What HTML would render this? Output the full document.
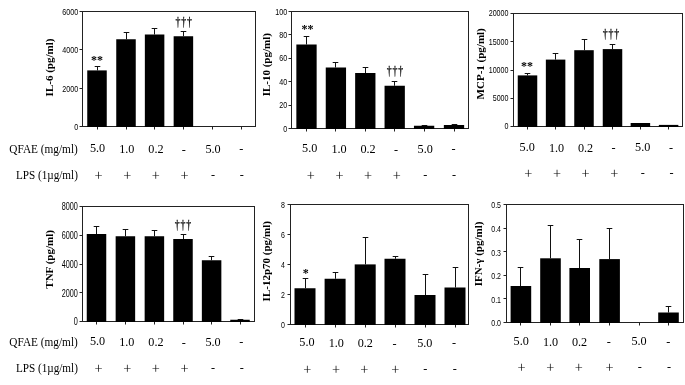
<!DOCTYPE html>
<html><head><meta charset="utf-8"><title>Cytokine charts</title>
<style>html,body{margin:0;padding:0;background:#fff}svg{display:block}
text{font-family:"Liberation Serif","DejaVu Serif",serif;fill:#000}
.l{font-size:12.2px}.t{font-family:"Liberation Sans","DejaVu Sans",sans-serif}.y{font-size:11px;font-weight:bold}.m{font-size:12px;font-weight:bold;fill:#000}.d{font-size:12px;fill:#000;stroke:#000;stroke-width:.25px;letter-spacing:1.1px}.p{font-size:14.3px}
.ax{stroke:#222;stroke-width:1;fill:none}.b{fill:#000}.e{stroke:#111;stroke-width:1;fill:none}</style></head>
<body>
<svg width="685" height="385" viewBox="0 0 685 385">
<rect width="685" height="385" fill="#fff"/>
<g>
<rect class="ax" x="82.5" y="11.5" width="173.00" height="115.00"/>
<line class="ax" x1="79.5" y1="126.5" x2="82.5" y2="126.5"/><text class="t" font-size="9.3" text-anchor="end" transform="translate(78.20,130.03) scale(0.767,1)">0</text>
<line class="ax" x1="79.5" y1="88.5" x2="82.5" y2="88.5"/><text class="t" font-size="9.3" text-anchor="end" transform="translate(78.20,91.70) scale(0.767,1)">2000</text>
<line class="ax" x1="79.5" y1="49.5" x2="82.5" y2="49.5"/><text class="t" font-size="9.3" text-anchor="end" transform="translate(78.20,53.36) scale(0.767,1)">4000</text>
<line class="ax" x1="79.5" y1="11.5" x2="82.5" y2="11.5"/><text class="t" font-size="9.3" text-anchor="end" transform="translate(78.20,15.03) scale(0.767,1)">6000</text>
<line class="ax" x1="97.5" y1="126.5" x2="97.5" y2="129.5"/><path class="e" d="M97.5 70.4V66.5M94.7 66.5H100.3"/><rect class="b" x="87.25" y="70.4" width="19.5" height="56.60"/>
<line class="ax" x1="126.5" y1="126.5" x2="126.5" y2="129.5"/><path class="e" d="M126.5 39.25V32.5M123.7 32.5H129.3"/><rect class="b" x="116.25" y="39.25" width="19.5" height="87.75"/>
<line class="ax" x1="154.5" y1="126.5" x2="154.5" y2="129.5"/><path class="e" d="M154.5 34.5V28.5M151.7 28.5H157.3"/><rect class="b" x="144.85" y="34.5" width="19.5" height="92.50"/>
<line class="ax" x1="183.5" y1="126.5" x2="183.5" y2="129.5"/><path class="e" d="M183.5 36.25V31.5M180.7 31.5H186.3"/><rect class="b" x="173.65" y="36.25" width="19.5" height="90.75"/>
<line class="ax" x1="212.5" y1="126.5" x2="212.5" y2="129.5"/>
<line class="ax" x1="241.5" y1="126.5" x2="241.5" y2="129.5"/>
<text class="m" text-anchor="middle" x="97" y="63.5">**</text>
<text class="d" text-anchor="middle" transform="translate(184.15,26) scale(0.82,1)">†††</text>
<text class="y" text-anchor="middle" transform="translate(53.4,67.5) rotate(-90)">IL-6 (pg/ml)</text>
<text class="l" x="9.3" y="152.80" textLength="68.5" lengthAdjust="spacingAndGlyphs">QFAE (mg/ml)</text>
<text class="l" x="15.9" y="178.60" textLength="62" lengthAdjust="spacingAndGlyphs">LPS (1µg/ml)</text>
<text class="l" text-anchor="middle" x="97.50" y="152.20">5.0</text><text class="p" text-anchor="middle" x="98.50" y="179.70">+</text>
<text class="l" text-anchor="middle" x="126.80" y="153.00">1.0</text><text class="p" text-anchor="middle" x="127.25" y="179.70">+</text>
<text class="l" text-anchor="middle" x="155.90" y="153.00">0.2</text><text class="p" text-anchor="middle" x="155.90" y="179.70">+</text>
<text class="l" text-anchor="middle" x="183.75" y="152.70">-</text><text class="p" text-anchor="middle" x="184.60" y="179.70">+</text>
<text class="l" text-anchor="middle" x="213.00" y="152.50">5.0</text><text class="l" text-anchor="middle" x="213.10" y="177.70">-</text>
<text class="l" text-anchor="middle" x="241.40" y="152.00">-</text><text class="l" text-anchor="middle" x="241.75" y="177.70">-</text>
</g>
<g>
<rect class="ax" x="291.5" y="11.5" width="177.00" height="117.00"/>
<line class="ax" x1="288.5" y1="128.5" x2="291.5" y2="128.5"/><text class="t" font-size="9.3" text-anchor="end" transform="translate(287.20,131.53) scale(0.767,1)">0</text>
<line class="ax" x1="288.5" y1="105.5" x2="291.5" y2="105.5"/><text class="t" font-size="9.3" text-anchor="end" transform="translate(287.20,108.13) scale(0.767,1)">20</text>
<line class="ax" x1="288.5" y1="81.5" x2="291.5" y2="81.5"/><text class="t" font-size="9.3" text-anchor="end" transform="translate(287.20,84.73) scale(0.767,1)">40</text>
<line class="ax" x1="288.5" y1="58.5" x2="291.5" y2="58.5"/><text class="t" font-size="9.3" text-anchor="end" transform="translate(287.20,61.33) scale(0.767,1)">60</text>
<line class="ax" x1="288.5" y1="34.5" x2="291.5" y2="34.5"/><text class="t" font-size="9.3" text-anchor="end" transform="translate(287.20,37.93) scale(0.767,1)">80</text>
<line class="ax" x1="288.5" y1="11.5" x2="291.5" y2="11.5"/><text class="t" font-size="9.3" text-anchor="end" transform="translate(287.20,14.53) scale(0.767,1)">100</text>
<line class="ax" x1="306.5" y1="128.5" x2="306.5" y2="131.5"/><path class="e" d="M306.5 44.5V36.5M303.7 36.5H309.3"/><rect class="b" x="296.35" y="44.5" width="20.3" height="84.50"/>
<line class="ax" x1="335.5" y1="128.5" x2="335.5" y2="131.5"/><path class="e" d="M335.5 67.5V62.5M332.7 62.5H338.3"/><rect class="b" x="325.75" y="67.5" width="20.3" height="61.50"/>
<line class="ax" x1="365.5" y1="128.5" x2="365.5" y2="131.5"/><path class="e" d="M365.5 73V67.5M362.7 67.5H368.3"/><rect class="b" x="355.15" y="73" width="20.3" height="56.00"/>
<line class="ax" x1="394.5" y1="128.5" x2="394.5" y2="131.5"/><path class="e" d="M394.5 85.75V81.5M391.7 81.5H397.3"/><rect class="b" x="384.55" y="85.75" width="20.3" height="43.25"/>
<line class="ax" x1="424.5" y1="128.5" x2="424.5" y2="131.5"/><path class="e" d="M424.5 125.75V125.5M421.7 125.5H427.3"/><rect class="b" x="413.95" y="125.75" width="20.3" height="3.25"/>
<line class="ax" x1="454.5" y1="128.5" x2="454.5" y2="131.5"/><path class="e" d="M454.5 125V124.5M451.7 124.5H457.3"/><rect class="b" x="443.85" y="125" width="20.3" height="4.00"/>
<text class="m" text-anchor="middle" x="307.5" y="32.6">**</text>
<text class="d" text-anchor="middle" transform="translate(395.4,74.6) scale(0.82,1)">†††</text>
<text class="y" text-anchor="middle" transform="translate(269.8,64.7) rotate(-90)">IL-10 (pg/ml)</text>
<text class="l" text-anchor="middle" x="309.70" y="152.20">5.0</text><text class="p" text-anchor="middle" x="310.70" y="179.70">+</text>
<text class="l" text-anchor="middle" x="339.00" y="153.00">1.0</text><text class="p" text-anchor="middle" x="339.45" y="179.70">+</text>
<text class="l" text-anchor="middle" x="368.10" y="153.00">0.2</text><text class="p" text-anchor="middle" x="368.10" y="179.70">+</text>
<text class="l" text-anchor="middle" x="395.95" y="152.70">-</text><text class="p" text-anchor="middle" x="396.80" y="179.70">+</text>
<text class="l" text-anchor="middle" x="425.20" y="152.50">5.0</text><text class="l" text-anchor="middle" x="425.30" y="177.70">-</text>
<text class="l" text-anchor="middle" x="453.60" y="152.00">-</text><text class="l" text-anchor="middle" x="453.95" y="177.70">-</text>
</g>
<g>
<rect class="ax" x="513.5" y="13.5" width="169.00" height="113.00"/>
<line class="ax" x1="510.5" y1="126.5" x2="513.5" y2="126.5"/><text class="t" font-size="9.3" text-anchor="end" transform="translate(508.50,129.43) scale(0.767,1)">0</text>
<line class="ax" x1="510.5" y1="98.5" x2="513.5" y2="98.5"/><text class="t" font-size="9.3" text-anchor="end" transform="translate(508.50,101.18) scale(0.767,1)">5000</text>
<line class="ax" x1="510.5" y1="70.5" x2="513.5" y2="70.5"/><text class="t" font-size="9.3" text-anchor="end" transform="translate(508.50,72.93) scale(0.767,1)">10000</text>
<line class="ax" x1="510.5" y1="41.5" x2="513.5" y2="41.5"/><text class="t" font-size="9.3" text-anchor="end" transform="translate(508.50,44.68) scale(0.767,1)">15000</text>
<line class="ax" x1="510.5" y1="13.5" x2="513.5" y2="13.5"/><text class="t" font-size="9.3" text-anchor="end" transform="translate(508.50,16.43) scale(0.767,1)">20000</text>
<line class="ax" x1="527.5" y1="126.5" x2="527.5" y2="129.5"/><path class="e" d="M527.5 75.4V73.5M524.7 73.5H530.3"/><rect class="b" x="517.75" y="75.4" width="19.5" height="51.60"/>
<line class="ax" x1="555.5" y1="126.5" x2="555.5" y2="129.5"/><path class="e" d="M555.5 59.6V53.5M552.7 53.5H558.3"/><rect class="b" x="545.85" y="59.6" width="19.5" height="67.40"/>
<line class="ax" x1="584.5" y1="126.5" x2="584.5" y2="129.5"/><path class="e" d="M584.5 50.2V39.5M581.7 39.5H587.3"/><rect class="b" x="574.25" y="50.2" width="19.5" height="76.80"/>
<line class="ax" x1="612.5" y1="126.5" x2="612.5" y2="129.5"/><path class="e" d="M612.5 49.1V44.5M609.7 44.5H615.3"/><rect class="b" x="602.75" y="49.1" width="19.5" height="77.90"/>
<line class="ax" x1="640.5" y1="126.5" x2="640.5" y2="129.5"/><rect class="b" x="630.65" y="123" width="19.5" height="4.00"/>
<line class="ax" x1="668.5" y1="126.5" x2="668.5" y2="129.5"/><rect class="b" x="658.85" y="124.9" width="19.5" height="2.10"/>
<text class="m" text-anchor="middle" x="527" y="70">**</text>
<text class="d" text-anchor="middle" transform="translate(611.4,38.4) scale(0.82,1)">†††</text>
<text class="y" text-anchor="middle" transform="translate(484,63.8) rotate(-90)">MCP-1 (pg/ml)</text>
<text class="l" text-anchor="middle" x="527.20" y="150.80">5.0</text><text class="p" text-anchor="middle" x="528.20" y="178.30">+</text>
<text class="l" text-anchor="middle" x="556.50" y="151.60">1.0</text><text class="p" text-anchor="middle" x="556.95" y="178.30">+</text>
<text class="l" text-anchor="middle" x="585.60" y="151.60">0.2</text><text class="p" text-anchor="middle" x="585.60" y="178.30">+</text>
<text class="l" text-anchor="middle" x="613.45" y="151.30">-</text><text class="p" text-anchor="middle" x="614.30" y="178.30">+</text>
<text class="l" text-anchor="middle" x="642.70" y="151.10">5.0</text><text class="l" text-anchor="middle" x="642.80" y="176.30">-</text>
<text class="l" text-anchor="middle" x="671.10" y="150.60">-</text><text class="l" text-anchor="middle" x="671.45" y="176.30">-</text>
</g>
<g>
<rect class="ax" x="82.5" y="206.5" width="172.00" height="115.00"/>
<line class="ax" x1="79.5" y1="321.5" x2="82.5" y2="321.5"/><text class="t" font-size="10.0" text-anchor="end" transform="translate(77.90,325.48) scale(0.728,1)">0</text>
<line class="ax" x1="79.5" y1="292.5" x2="82.5" y2="292.5"/><text class="t" font-size="10.0" text-anchor="end" transform="translate(77.90,296.73) scale(0.728,1)">2000</text>
<line class="ax" x1="79.5" y1="264.5" x2="82.5" y2="264.5"/><text class="t" font-size="10.0" text-anchor="end" transform="translate(77.90,267.98) scale(0.728,1)">4000</text>
<line class="ax" x1="79.5" y1="235.5" x2="82.5" y2="235.5"/><text class="t" font-size="10.0" text-anchor="end" transform="translate(77.90,239.23) scale(0.728,1)">6000</text>
<line class="ax" x1="79.5" y1="206.5" x2="82.5" y2="206.5"/><text class="t" font-size="10.0" text-anchor="end" transform="translate(77.90,210.48) scale(0.728,1)">8000</text>
<line class="ax" x1="96.5" y1="321.5" x2="96.5" y2="324.5"/><path class="e" d="M96.5 234V226.5M93.7 226.5H99.3"/><rect class="b" x="86.75" y="234" width="19.5" height="88.00"/>
<line class="ax" x1="125.5" y1="321.5" x2="125.5" y2="324.5"/><path class="e" d="M125.5 236.25V229.5M122.7 229.5H128.3"/><rect class="b" x="115.65" y="236.25" width="19.5" height="85.75"/>
<line class="ax" x1="154.5" y1="321.5" x2="154.5" y2="324.5"/><path class="e" d="M154.5 236.25V230.5M151.7 230.5H157.3"/><rect class="b" x="144.65" y="236.25" width="19.5" height="85.75"/>
<line class="ax" x1="183.5" y1="321.5" x2="183.5" y2="324.5"/><path class="e" d="M183.5 239V234.5M180.7 234.5H186.3"/><rect class="b" x="173.25" y="239" width="19.5" height="83.00"/>
<line class="ax" x1="211.5" y1="321.5" x2="211.5" y2="324.5"/><path class="e" d="M211.5 260.25V256.5M208.7 256.5H214.3"/><rect class="b" x="201.85" y="260.25" width="19.5" height="61.75"/>
<line class="ax" x1="240.5" y1="321.5" x2="240.5" y2="324.5"/><path class="e" d="M240.5 319.75V319.5M237.7 319.5H243.3"/><rect class="b" x="230.25" y="319.75" width="19.5" height="2.25"/>
<text class="d" text-anchor="middle" transform="translate(183.4,228.5) scale(0.82,1)">†††</text>
<text class="y" text-anchor="middle" transform="translate(53.0,259.4) rotate(-90)">TNF (pg/ml)</text>
<text class="l" x="9.3" y="346.00" textLength="68.5" lengthAdjust="spacingAndGlyphs">QFAE (mg/ml)</text>
<text class="l" x="15.9" y="371.80" textLength="62" lengthAdjust="spacingAndGlyphs">LPS (1µg/ml)</text>
<text class="l" text-anchor="middle" x="97.50" y="345.40">5.0</text><text class="p" text-anchor="middle" x="98.50" y="372.90">+</text>
<text class="l" text-anchor="middle" x="126.80" y="346.20">1.0</text><text class="p" text-anchor="middle" x="127.25" y="372.90">+</text>
<text class="l" text-anchor="middle" x="155.90" y="346.20">0.2</text><text class="p" text-anchor="middle" x="155.90" y="372.90">+</text>
<text class="l" text-anchor="middle" x="183.75" y="345.90">-</text><text class="p" text-anchor="middle" x="184.60" y="372.90">+</text>
<text class="l" text-anchor="middle" x="213.00" y="345.70">5.0</text><text class="l" text-anchor="middle" x="213.10" y="370.90">-</text>
<text class="l" text-anchor="middle" x="241.40" y="345.20">-</text><text class="l" text-anchor="middle" x="241.75" y="370.90">-</text>
</g>
<g>
<rect class="ax" x="290.5" y="204.5" width="178.00" height="120.00"/>
<line class="ax" x1="287.5" y1="324.5" x2="290.5" y2="324.5"/><text class="t" font-size="9.9" text-anchor="end" transform="translate(285.00,328.39) scale(0.71,1)">0</text>
<line class="ax" x1="287.5" y1="294.5" x2="290.5" y2="294.5"/><text class="t" font-size="9.9" text-anchor="end" transform="translate(285.00,298.39) scale(0.71,1)">2</text>
<line class="ax" x1="287.5" y1="264.5" x2="290.5" y2="264.5"/><text class="t" font-size="9.9" text-anchor="end" transform="translate(285.00,268.39) scale(0.71,1)">4</text>
<line class="ax" x1="287.5" y1="234.5" x2="290.5" y2="234.5"/><text class="t" font-size="9.9" text-anchor="end" transform="translate(285.00,238.39) scale(0.71,1)">6</text>
<line class="ax" x1="287.5" y1="204.5" x2="290.5" y2="204.5"/><text class="t" font-size="9.9" text-anchor="end" transform="translate(285.00,208.39) scale(0.71,1)">8</text>
<line class="ax" x1="305.5" y1="324.5" x2="305.5" y2="327.5"/><path class="e" d="M305.5 288.25V278.5M302.7 278.5H308.3"/><rect class="b" x="294.50" y="288.25" width="21" height="36.75"/>
<line class="ax" x1="335.5" y1="324.5" x2="335.5" y2="327.5"/><path class="e" d="M335.5 278.75V272.5M332.7 272.5H338.3"/><rect class="b" x="324.60" y="278.75" width="21" height="46.25"/>
<line class="ax" x1="365.5" y1="324.5" x2="365.5" y2="327.5"/><path class="e" d="M365.5 264.4V237.5M362.7 237.5H368.3"/><rect class="b" x="354.70" y="264.4" width="21" height="60.60"/>
<line class="ax" x1="395.5" y1="324.5" x2="395.5" y2="327.5"/><path class="e" d="M395.5 258.75V256.5M392.7 256.5H398.3"/><rect class="b" x="384.50" y="258.75" width="21" height="66.25"/>
<line class="ax" x1="425.5" y1="324.5" x2="425.5" y2="327.5"/><path class="e" d="M425.5 295V274.5M422.7 274.5H428.3"/><rect class="b" x="414.50" y="295" width="21" height="30.00"/>
<line class="ax" x1="455.5" y1="324.5" x2="455.5" y2="327.5"/><path class="e" d="M455.5 287.5V267.5M452.7 267.5H458.3"/><rect class="b" x="444.50" y="287.5" width="21" height="37.50"/>
<text class="m" text-anchor="middle" x="305.75" y="276.7">*</text>
<text class="y" text-anchor="middle" transform="translate(270,261.2) rotate(-90)">IL-12p70 (pg/ml)</text>
<text class="l" text-anchor="middle" x="306.90" y="346.45">5.0</text><text class="p" text-anchor="middle" x="307.25" y="373.95">+</text>
<text class="l" text-anchor="middle" x="336.25" y="347.25">1.0</text><text class="p" text-anchor="middle" x="336.00" y="373.95">+</text>
<text class="l" text-anchor="middle" x="365.25" y="347.25">0.2</text><text class="p" text-anchor="middle" x="364.40" y="373.95">+</text>
<text class="l" text-anchor="middle" x="394.60" y="346.95">-</text><text class="p" text-anchor="middle" x="395.25" y="373.95">+</text>
<text class="l" text-anchor="middle" x="424.75" y="346.75">5.0</text><text class="l" text-anchor="middle" x="425.40" y="371.95">-</text>
<text class="l" text-anchor="middle" x="454.00" y="346.25">-</text><text class="l" text-anchor="middle" x="454.75" y="371.95">-</text>
</g>
<g>
<rect class="ax" x="506.5" y="204.5" width="177.00" height="118.00"/>
<line class="ax" x1="503.5" y1="322.5" x2="506.5" y2="322.5"/><text class="t" font-size="9.9" text-anchor="end" transform="translate(501.00,326.39) scale(0.71,1)">0.0</text>
<line class="ax" x1="503.5" y1="298.5" x2="506.5" y2="298.5"/><text class="t" font-size="9.9" text-anchor="end" transform="translate(501.00,302.79) scale(0.71,1)">0.1</text>
<line class="ax" x1="503.5" y1="275.5" x2="506.5" y2="275.5"/><text class="t" font-size="9.9" text-anchor="end" transform="translate(501.00,279.19) scale(0.71,1)">0.2</text>
<line class="ax" x1="503.5" y1="251.5" x2="506.5" y2="251.5"/><text class="t" font-size="9.9" text-anchor="end" transform="translate(501.00,255.59) scale(0.71,1)">0.3</text>
<line class="ax" x1="503.5" y1="228.5" x2="506.5" y2="228.5"/><text class="t" font-size="9.9" text-anchor="end" transform="translate(501.00,231.99) scale(0.71,1)">0.4</text>
<line class="ax" x1="503.5" y1="204.5" x2="506.5" y2="204.5"/><text class="t" font-size="9.9" text-anchor="end" transform="translate(501.00,208.39) scale(0.71,1)">0.5</text>
<line class="ax" x1="520.5" y1="322.5" x2="520.5" y2="325.5"/><path class="e" d="M520.5 286.0V267.5M517.7 267.5H523.3"/><rect class="b" x="510.60" y="286.0" width="20.6" height="37.00"/>
<line class="ax" x1="550.5" y1="322.5" x2="550.5" y2="325.5"/><path class="e" d="M550.5 258.3V225.5M547.7 225.5H553.3"/><rect class="b" x="540.20" y="258.3" width="20.6" height="64.70"/>
<line class="ax" x1="579.5" y1="322.5" x2="579.5" y2="325.5"/><path class="e" d="M579.5 268.0V239.5M576.7 239.5H582.3"/><rect class="b" x="569.40" y="268.0" width="20.6" height="55.00"/>
<line class="ax" x1="609.5" y1="322.5" x2="609.5" y2="325.5"/><path class="e" d="M609.5 259.1V228.5M606.7 228.5H612.3"/><rect class="b" x="599.30" y="259.1" width="20.6" height="63.90"/>
<line class="ax" x1="639.5" y1="322.5" x2="639.5" y2="325.5"/>
<line class="ax" x1="668.5" y1="322.5" x2="668.5" y2="325.5"/><path class="e" d="M668.5 312.5V306.5M665.7 306.5H671.3"/><rect class="b" x="658.20" y="312.5" width="20.6" height="10.50"/>
<text class="y" text-anchor="middle" transform="translate(482.2,254.0) rotate(-90)">IFN-γ (pg/ml)</text>
<text class="l" text-anchor="middle" x="521.20" y="344.85">5.0</text><text class="p" text-anchor="middle" x="521.55" y="372.35">+</text>
<text class="l" text-anchor="middle" x="550.55" y="345.65">1.0</text><text class="p" text-anchor="middle" x="550.30" y="372.35">+</text>
<text class="l" text-anchor="middle" x="579.55" y="345.65">0.2</text><text class="p" text-anchor="middle" x="578.70" y="372.35">+</text>
<text class="l" text-anchor="middle" x="608.90" y="345.35">-</text><text class="p" text-anchor="middle" x="609.55" y="372.35">+</text>
<text class="l" text-anchor="middle" x="639.05" y="345.15">5.0</text><text class="l" text-anchor="middle" x="639.70" y="370.35">-</text>
<text class="l" text-anchor="middle" x="668.30" y="344.65">-</text><text class="l" text-anchor="middle" x="669.05" y="370.35">-</text>
</g>
</svg>
</body></html>
